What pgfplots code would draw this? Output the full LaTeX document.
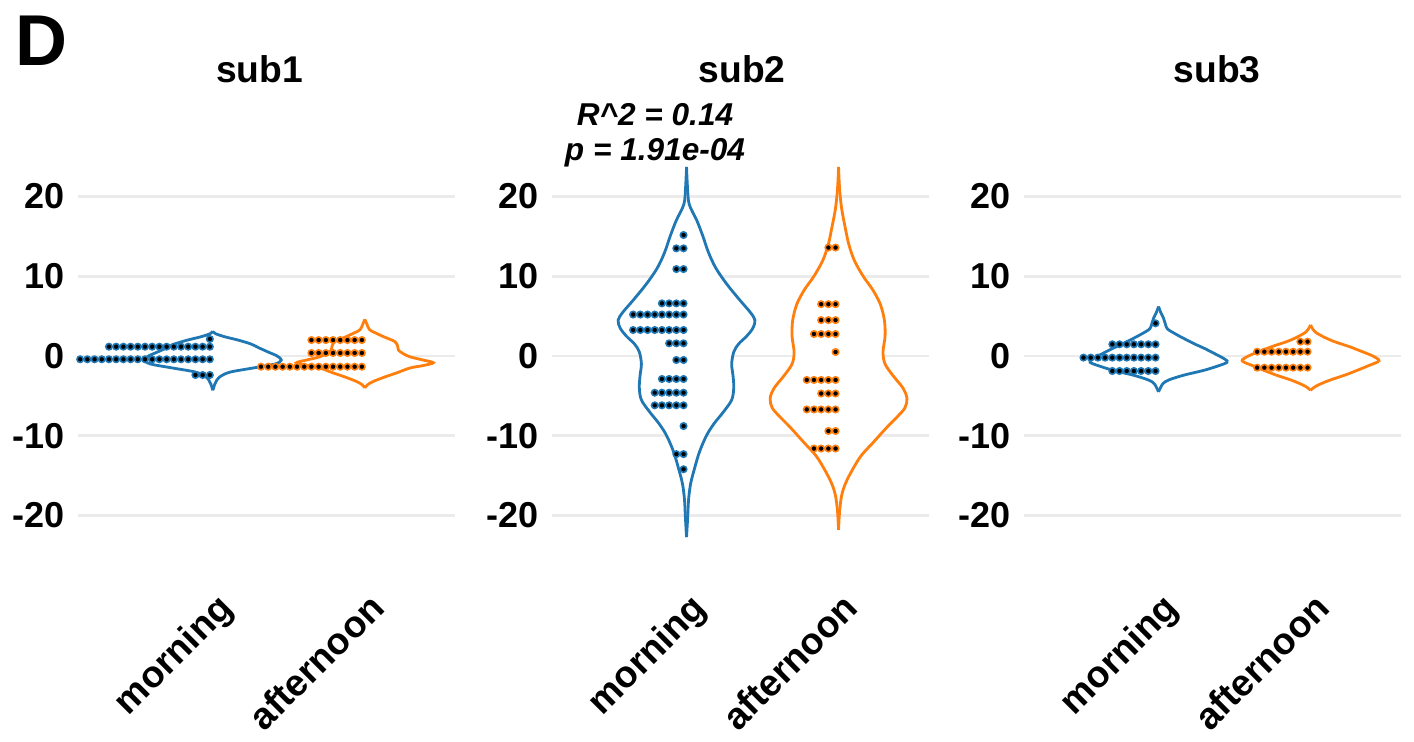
\documentclass[border=0pt]{standalone}
\usepackage{fontspec}
\setmainfont{Liberation Sans}
\usepackage{pgfplots}
\pgfplotsset{compat=1.18}
\usepackage{pgfplotstable}

\definecolor{c1}{HTML}{1F77B4}
\definecolor{c2}{HTML}{FF7F0E}
\definecolor{gridgray}{HTML}{EBEBEB}

% ---------- violin outlines: y, relative half-width d (max = 1) ----------
\pgfplotstableread{
y d
-4.3 0
-3.5 0.03
-3.0 0.06
-2.5 0.12
-2.0 0.26
-1.5 0.59
-1.0 0.91
-0.5 1.00
0.0 0.94
0.5 0.81
1.0 0.68
1.5 0.56
2.0 0.37
2.4 0.18
2.8 0.04
3.1 0
}\vOneM
\pgfplotstableread{
y d
-4.0 0
-3.6 0.04
-3.2 0.12
-2.6 0.30
-2.1 0.47
-1.5 0.66
-1.2 0.85
-0.84 1.00
-0.5 0.85
-0.1 0.66
0.3 0.56
0.75 0.49
1.2 0.48
1.8 0.44
2.4 0.28
2.8 0.18
3.3 0.07
4.0 0.03
4.6 0
}\vOneA
\pgfplotstableread{
y d
-22.7 0
-20.5 0.015
-18 0.03
-16 0.06
-14 0.12
-12 0.19
-10 0.29
-8.5 0.40
-7 0.54
-5.5 0.66
-4 0.69
-2.5 0.68
-1 0.66
0.5 0.69
1.5 0.76
2.5 0.88
3.5 0.97
4.5 1.00
5.5 0.93
7 0.78
9 0.59
11 0.43
13 0.32
15 0.24
17 0.15
19 0.04
21 0.015
23.7 0
}\vTwoM
\pgfplotstableread{
y d
-21.8 0
-19.5 0.015
-17.5 0.045
-16 0.10
-14.3 0.20
-12.5 0.33
-10.9 0.50
-9 0.70
-7.6 0.86
-6.5 0.97
-5.3 1.00
-4 0.94
-2.5 0.80
-1 0.68
0.5 0.65
2.5 0.68
4.5 0.67
6.5 0.61
8.3 0.50
10 0.36
12 0.23
14 0.15
16 0.10
18.5 0.045
21 0.015
23.7 0
}\vTwoA
\pgfplotstableread{
y d
-4.5 0
-3.5 0.06
-3.0 0.15
-2.4 0.37
-1.8 0.66
-1.3 0.85
-0.8 1.00
-0.4 0.97
0.3 0.82
1.0 0.66
1.5 0.53
2.2 0.37
2.8 0.24
3.4 0.13
4.0 0.10
4.8 0.07
5.5 0.03
6.2 0
}\vThreeM
\pgfplotstableread{
y d
-4.3 0
-4.0 0.04
-3.6 0.12
-3.0 0.29
-2.4 0.50
-1.8 0.68
-1.2 0.85
-0.6 1.00
0.0 0.91
0.6 0.74
1.2 0.56
1.8 0.35
2.4 0.19
3.0 0.07
3.4 0.03
3.9 0
}\vThreeA

\pgfplotsset{
  panel/.style={
    scale only axis, width=188.35pt, height=199.4pt, anchor=south west,
    xmin=0.115, xmax=2.593, ymin=-25, ymax=25, clip=false,
    xtick={1,2}, xticklabels={morning,afternoon},
    ytick={-20,-10,0,10,20}, yticklabels={-20,-10,0,10,20},
    ymajorgrids, grid style={line width=1.3pt, gridgray},
    axis line style={draw=none}, major tick length=0pt, tick style={draw=none},
    yticklabel style={font=\bfseries\fontsize{18}{20}\selectfont,
      anchor=east, inner sep=0pt, xshift=-6.5pt},
    xticklabel style={font=\bfseries\fontsize{18.7}{20}\selectfont,
      xshift=1.2pt, yshift=-17.7pt, rotate=45, anchor=north east, inner sep=0pt},
  },
  vline/.style={draw=#1, line width=1.4pt, smooth, tension=0.55},
  dots/.style={only marks, mark=*, mark size=1.6pt,
    mark options={fill=black, draw=#1, line width=0.8pt, solid}},
}

% violin: table, centre, colour (each half filled white, then outlined)
\newcommand{\violin}[3]{%
  \addplot[draw=none, fill=white, smooth, tension=0.55] table[x expr={#2+0.45*\thisrow{d}}, y=y]{#1} -- cycle;
  \addplot[draw=none, fill=white, smooth, tension=0.55] table[x expr={#2-0.45*\thisrow{d}}, y=y]{#1} -- cycle;
  \addplot[vline=#3] table[x expr={#2+0.45*\thisrow{d}}, y=y]{#1};
  \addplot[vline=#3] table[x expr={#2-0.45*\thisrow{d}}, y=y]{#1};
}

% dot stack: centre, colour, list of bin value / number of dots;
% each row of dots is piled leftwards from the category centre
\newcommand{\dotstack}[3]{%
  \foreach \yy/\nn in {#3}{%
    \gdef\dotlist{}%
    \foreach \k in {1,...,\nn}{%
      \pgfmathsetmacro\dx{#1-0.0197-0.0474*(\k-1)}%
      \xdef\dotlist{\dotlist(\dx,\yy)}%
    }%
    \edef\temp{\noexpand\addplot[dots=#2] coordinates {\dotlist};}%
    \temp
  }%
}

\begin{document}
\begin{tikzpicture}
\path[use as bounding box] (0,0) rectangle (707pt,-370.5pt);

\begin{axis}[panel, at={(39.15pt,-277.7pt)}]
  \violin{\vOneM}{1}{c1}
  \violin{\vOneA}{2}{c2}
  \dotstack{1}{c1}{2.13/1, 1.17/15, -0.41/19, -2.38/3}
  \dotstack{2}{c2}{2.0/8, 0.38/8, -1.34/15}
\end{axis}

\begin{axis}[panel, at={(276pt,-277.7pt)}]
  \violin{\vTwoM}{1}{c1}
  \violin{\vTwoA}{2}{c2}
  \dotstack{1}{c1}{15.17/1, 13.5/2, 10.9/2, 6.6/4, 5.2/8, 3.26/8, 1.59/3, -0.5/2, -2.88/4, -4.6/5, -6.18/5, -8.78/1, -12.3/2, -14.2/1}
  \dotstack{2}{c2}{13.6/2, 6.5/3, 4.5/3, 2.76/4, 0.5/1, -3.0/5, -4.7/3, -6.7/5, -9.4/2, -11.6/4}
\end{axis}

\begin{axis}[panel, at={(512pt,-277.7pt)}]
  \violin{\vThreeM}{1}{c1}
  \violin{\vThreeA}{2}{c2}
  \dotstack{1}{c1}{4.1/1, 1.47/7, -0.2/11, -1.88/7}
  \dotstack{2}{c2}{1.8/2, 0.54/8, -1.46/8}
\end{axis}

% panel titles and annotation
\begin{scope}[every node/.style={inner sep=0pt, anchor=base}]
  \node[font=\bfseries\fontsize{18.6}{20}\selectfont] at (129.75pt,-41pt) {sub1};
  \node[font=\bfseries\fontsize{18.6}{20}\selectfont] at (371pt,-41pt) {sub2};
  \node[font=\bfseries\fontsize{18.6}{20}\selectfont] at (608.5pt,-41pt) {sub3};
  \node[font=\bfseries\itshape\fontsize{15.8}{18}\selectfont] at (327.5pt,-62.5pt) {R\^{}2 = 0.14};
  \node[font=\bfseries\itshape\fontsize{15.8}{18}\selectfont] at (327.5pt,-80pt) {p = 1.91e-04};
  \node[font=\bfseries\fontsize{36}{37}\selectfont, anchor=base west] at (7.5pt,-32.5pt) {D};
\end{scope}
\end{tikzpicture}
\end{document}
